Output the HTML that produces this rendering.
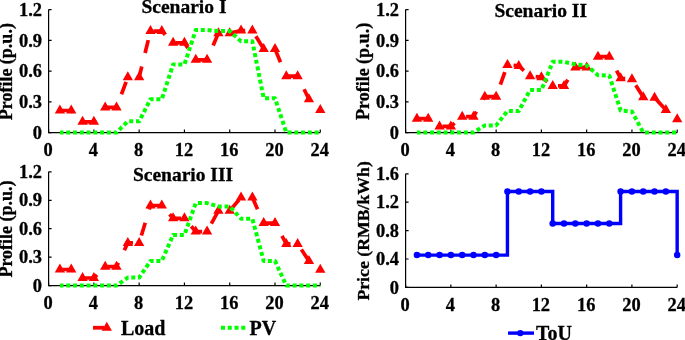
<!DOCTYPE html>
<html><head><meta charset="utf-8"><style>
html,body{margin:0;padding:0;background:#fff;width:685px;height:340px;overflow:hidden}
svg{display:block;will-change:transform}
text{stroke:#000;stroke-width:0.3;paint-order:stroke}
</style></head><body>
<svg width="685" height="340" viewBox="0 0 685 340" font-family='"Liberation Serif", serif' font-weight="bold" font-size="18.4">
<rect width="685" height="340" fill="#fff"/>
<path d="M48.6 9.55V132.55H320.28" fill="none" stroke="#000" stroke-width="1.2"/>
<path d="M48.6 132.55h3M48.6 101.8h3M48.6 71.05h3M48.6 40.3h3M48.6 9.55h3M48.6 132.55v-3M93.88 132.55v-3M139.16 132.55v-3M184.44 132.55v-3M229.72 132.55v-3M275 132.55v-3M320.28 132.55v-3" fill="none" stroke="#000" stroke-width="1.2"/>
<text x="42" y="138.75" text-anchor="end">0</text>
<text x="42" y="108" text-anchor="end">0.3</text>
<text x="42" y="77.25" text-anchor="end">0.6</text>
<text x="42" y="46.5" text-anchor="end">0.9</text>
<text x="42" y="15.75" text-anchor="end">1.2</text>
<text x="48.1" y="155.75" text-anchor="middle">0</text>
<text x="93.38" y="155.75" text-anchor="middle">4</text>
<text x="138.66" y="155.75" text-anchor="middle">8</text>
<text x="183.94" y="155.75" text-anchor="middle">12</text>
<text x="229.22" y="155.75" text-anchor="middle">16</text>
<text x="274.5" y="155.75" text-anchor="middle">20</text>
<text x="319.78" y="155.75" text-anchor="middle">24</text>
<path d="M59.92 110.51L71.24 110.51L82.56 121.79L93.88 121.79L105.2 107.44L116.52 107.44L127.84 77.2L139.16 77.2L150.48 31.08" fill="none" stroke="#ff0000" stroke-width="3.7" stroke-dasharray="13.3 13.9" stroke-dashoffset="26.48"/>
<path d="M150.48 31.08L161.8 31.08L173.12 42.86L184.44 42.86" fill="none" stroke="#ff0000" stroke-width="3.7" stroke-dasharray="13.3 13.9" stroke-dashoffset="24.20"/>
<path d="M184.44 42.86L195.76 59.78L207.08 59.78L218.4 33.13L229.72 33.13L241.04 30.56L252.36 30.56L263.68 49.01L275 49.01L286.32 76.18L297.64 76.18L308.96 99.24L320.28 110" fill="none" stroke="#ff0000" stroke-width="3.7" stroke-dasharray="13.3 13.9" stroke-dashoffset="7.18"/>
<path d="M59.92 104.51L65.07 113.51L54.77 113.51ZM71.24 104.51L76.39 113.51L66.09 113.51ZM82.56 115.79L87.71 124.79L77.41 124.79ZM93.88 115.79L99.03 124.79L88.73 124.79ZM105.2 101.44L110.35 110.44L100.05 110.44ZM116.52 101.44L121.67 110.44L111.37 110.44ZM127.84 71.2L132.99 80.2L122.69 80.2ZM139.16 71.2L144.31 80.2L134.01 80.2ZM150.48 25.08L155.63 34.08L145.33 34.08ZM161.8 25.08L166.95 34.08L156.65 34.08ZM173.12 36.86L178.27 45.86L167.97 45.86ZM184.44 36.86L189.59 45.86L179.29 45.86ZM195.76 53.78L200.91 62.78L190.61 62.78ZM207.08 53.78L212.23 62.78L201.93 62.78ZM218.4 27.13L223.55 36.13L213.25 36.13ZM229.72 27.13L234.87 36.13L224.57 36.13ZM241.04 24.56L246.19 33.56L235.89 33.56ZM252.36 24.56L257.51 33.56L247.21 33.56ZM263.68 43.01L268.83 52.01L258.53 52.01ZM275 43.01L280.15 52.01L269.85 52.01ZM286.32 70.18L291.47 79.18L281.17 79.18ZM297.64 70.18L302.79 79.18L292.49 79.18ZM308.96 93.24L314.11 102.24L303.81 102.24ZM320.28 104L325.43 113L315.13 113Z" fill="#ff0000"/>
<path d="M59.92 132.55L71.24 132.55L82.56 132.55L93.88 132.55L105.2 132.55L116.52 132.55L127.84 121.28L139.16 121.28L150.48 99.24L161.8 99.24L173.12 64.39L184.44 64.39L195.76 30.05L207.08 30.05L218.4 31.08L229.72 31.08L241.04 41.33L252.36 41.33L263.68 98.21L275 98.21L286.32 132.55L297.64 132.55L308.96 132.55L320.28 132.55" fill="none" stroke="#00ff00" stroke-width="4" stroke-dasharray="4 2.76" stroke-dashoffset="0.4" stroke-linejoin="round"/>
<text x="184" y="13" text-anchor="middle" font-size="19.5">Scenario I</text>
<text transform="translate(12.3 71.7) rotate(-90)" text-anchor="middle" font-size="18">Profile (p.u.)</text>
<path d="M405.6 9.55V132.55H677.21" fill="none" stroke="#000" stroke-width="1.2"/>
<path d="M405.6 132.55h3M405.6 101.8h3M405.6 71.05h3M405.6 40.3h3M405.6 9.55h3M405.6 132.55v-3M450.87 132.55v-3M496.14 132.55v-3M541.4 132.55v-3M586.67 132.55v-3M631.94 132.55v-3M677.21 132.55v-3" fill="none" stroke="#000" stroke-width="1.2"/>
<text x="399" y="138.75" text-anchor="end">0</text>
<text x="399" y="108" text-anchor="end">0.3</text>
<text x="399" y="77.25" text-anchor="end">0.6</text>
<text x="399" y="46.5" text-anchor="end">0.9</text>
<text x="399" y="15.75" text-anchor="end">1.2</text>
<text x="405.1" y="155.75" text-anchor="middle">0</text>
<text x="450.37" y="155.75" text-anchor="middle">4</text>
<text x="495.64" y="155.75" text-anchor="middle">8</text>
<text x="540.9" y="155.75" text-anchor="middle">12</text>
<text x="586.17" y="155.75" text-anchor="middle">16</text>
<text x="631.44" y="155.75" text-anchor="middle">20</text>
<text x="676.71" y="155.75" text-anchor="middle">24</text>
<path d="M416.92 118.71L428.23 118.71L439.55 126.4L450.87 126.4L462.19 116.66L473.5 116.66L484.82 96.68L496.14 96.68L507.45 64.9L518.77 65.93" fill="none" stroke="#ff0000" stroke-width="3.7" stroke-dasharray="13.3 13.9" stroke-dashoffset="26.48"/>
<path d="M518.77 65.93L530.09 76.18L541.4 77.2L552.72 85.91" fill="none" stroke="#ff0000" stroke-width="3.7" stroke-dasharray="13.3 13.9" stroke-dashoffset="6.32"/>
<path d="M552.72 85.91L564.04 85.91L575.36 67.46L586.67 67.46L597.99 56.7L609.31 56.7L620.62 78.23L631.94 79.25L643.26 97.19L654.57 97.7L665.89 110L677.21 119.23" fill="none" stroke="#ff0000" stroke-width="3.7" stroke-dasharray="13.3 13.9" stroke-dashoffset="21.94"/>
<path d="M416.92 112.71L422.07 121.71L411.77 121.71ZM428.23 112.71L433.38 121.71L423.08 121.71ZM439.55 120.4L444.7 129.4L434.4 129.4ZM450.87 120.4L456.02 129.4L445.72 129.4ZM462.19 110.66L467.33 119.66L457.04 119.66ZM473.5 110.66L478.65 119.66L468.35 119.66ZM484.82 90.68L489.97 99.68L479.67 99.68ZM496.14 90.68L501.29 99.68L490.99 99.68ZM507.45 58.9L512.6 67.9L502.3 67.9ZM518.77 59.93L523.92 68.93L513.62 68.93ZM530.09 70.18L535.24 79.18L524.94 79.18ZM541.4 71.2L546.55 80.2L536.25 80.2ZM552.72 79.91L557.87 88.91L547.57 88.91ZM564.04 79.91L569.19 88.91L558.89 88.91ZM575.36 61.46L580.5 70.46L570.21 70.46ZM586.67 61.46L591.82 70.46L581.52 70.46ZM597.99 50.7L603.14 59.7L592.84 59.7ZM609.31 50.7L614.46 59.7L604.16 59.7ZM620.62 72.23L625.77 81.23L615.47 81.23ZM631.94 73.25L637.09 82.25L626.79 82.25ZM643.26 91.19L648.41 100.19L638.11 100.19ZM654.57 91.7L659.72 100.7L649.42 100.7ZM665.89 104L671.04 113L660.74 113ZM677.21 113.23L682.36 122.23L672.06 122.23Z" fill="#ff0000"/>
<path d="M416.92 132.55L428.23 132.55L439.55 132.55L450.87 132.55L462.19 132.55L473.5 132.55L484.82 125.38L496.14 125.38L507.45 111.03L518.77 111.03L530.09 90.01L541.4 90.01L552.72 61.83L564.04 61.83L575.36 64.39L586.67 65.41L597.99 75.15L609.31 75.66L620.62 110.51L631.94 111.54L643.26 132.55L654.57 132.55L665.89 132.55L677.21 132.55" fill="none" stroke="#00ff00" stroke-width="4" stroke-dasharray="4 2.76" stroke-dashoffset="0.4" stroke-linejoin="round"/>
<text x="540.7" y="17.2" text-anchor="middle" font-size="19.5">Scenario II</text>
<text transform="translate(369.2 71.45) rotate(-90)" text-anchor="middle" font-size="18">Profile (p.u.)</text>
<path d="M48.6 171.84V285.6H320.28" fill="none" stroke="#000" stroke-width="1.2"/>
<path d="M48.6 285.6h3M48.6 257.16h3M48.6 228.72h3M48.6 200.28h3M48.6 171.84h3M48.6 285.6v-3M93.88 285.6v-3M139.16 285.6v-3M184.44 285.6v-3M229.72 285.6v-3M275 285.6v-3M320.28 285.6v-3" fill="none" stroke="#000" stroke-width="1.2"/>
<text x="42" y="291.8" text-anchor="end">0</text>
<text x="42" y="263.36" text-anchor="end">0.3</text>
<text x="42" y="234.92" text-anchor="end">0.6</text>
<text x="42" y="206.48" text-anchor="end">0.9</text>
<text x="42" y="178.04" text-anchor="end">1.2</text>
<text x="48.1" y="308.8" text-anchor="middle">0</text>
<text x="93.38" y="308.8" text-anchor="middle">4</text>
<text x="138.66" y="308.8" text-anchor="middle">8</text>
<text x="183.94" y="308.8" text-anchor="middle">12</text>
<text x="229.22" y="308.8" text-anchor="middle">16</text>
<text x="274.5" y="308.8" text-anchor="middle">20</text>
<text x="319.78" y="308.8" text-anchor="middle">24</text>
<path d="M59.92 269.48L71.24 269.48L82.56 278.02L93.88 278.02L105.2 266.64L116.52 266.64L127.84 242.94L139.16 242.94L150.48 205.49L161.8 205.49L173.12 218.29L184.44 218.29L195.76 231.56L207.08 231.56L218.4 210.71L229.72 210.71L241.04 197.44L252.36 197.44L263.68 223.03L275 223.03L286.32 243.89L297.64 243.89L308.96 260.95L320.28 269.67" fill="none" stroke="#ff0000" stroke-width="3.7" stroke-dasharray="13.3 13.9" stroke-dashoffset="26.48"/>
<path d="M59.92 263.48L65.07 272.48L54.77 272.48ZM71.24 263.48L76.39 272.48L66.09 272.48ZM82.56 272.02L87.71 281.02L77.41 281.02ZM93.88 272.02L99.03 281.02L88.73 281.02ZM105.2 260.64L110.35 269.64L100.05 269.64ZM116.52 260.64L121.67 269.64L111.37 269.64ZM127.84 236.94L132.99 245.94L122.69 245.94ZM139.16 236.94L144.31 245.94L134.01 245.94ZM150.48 199.49L155.63 208.49L145.33 208.49ZM161.8 199.49L166.95 208.49L156.65 208.49ZM173.12 212.29L178.27 221.29L167.97 221.29ZM184.44 212.29L189.59 221.29L179.29 221.29ZM195.76 225.56L200.91 234.56L190.61 234.56ZM207.08 225.56L212.23 234.56L201.93 234.56ZM218.4 204.71L223.55 213.71L213.25 213.71ZM229.72 204.71L234.87 213.71L224.57 213.71ZM241.04 191.44L246.19 200.44L235.89 200.44ZM252.36 191.44L257.51 200.44L247.21 200.44ZM263.68 217.03L268.83 226.03L258.53 226.03ZM275 217.03L280.15 226.03L269.85 226.03ZM286.32 237.89L291.47 246.89L281.17 246.89ZM297.64 237.89L302.79 246.89L292.49 246.89ZM308.96 254.95L314.11 263.95L303.81 263.95ZM320.28 263.67L325.43 272.67L315.13 272.67Z" fill="#ff0000"/>
<path d="M59.92 285.6L71.24 285.6L82.56 285.6L93.88 285.6L105.2 285.6L116.52 285.6L127.84 277.54L139.16 277.54L150.48 260.95L161.8 260.95L173.12 234.88L184.44 234.88L195.76 203.12L207.08 203.12L218.4 206.44L229.72 206.44L241.04 218.77L252.36 218.77L263.68 260.95L275 260.95L286.32 285.6L297.64 285.6L308.96 285.6L320.28 285.6" fill="none" stroke="#00ff00" stroke-width="4" stroke-dasharray="4 2.76" stroke-dashoffset="0.4" stroke-linejoin="round"/>
<text x="183" y="181.2" text-anchor="middle" font-size="19.5">Scenario III</text>
<text transform="translate(11.8 229) rotate(-90)" text-anchor="middle" font-size="18">Profile (p.u.)</text>
<path d="M405.6 173.8V287.4H677.16" fill="none" stroke="#000" stroke-width="1.2"/>
<path d="M405.6 287.4h3M405.6 259h3M405.6 230.6h3M405.6 202.2h3M405.6 173.8h3M405.6 287.4v-3M450.86 287.4v-3M496.12 287.4v-3M541.38 287.4v-3M586.64 287.4v-3M631.9 287.4v-3M677.16 287.4v-3" fill="none" stroke="#000" stroke-width="1.2"/>
<text x="399" y="293.6" text-anchor="end">0</text>
<text x="399" y="265.2" text-anchor="end">0.4</text>
<text x="399" y="236.8" text-anchor="end">0.8</text>
<text x="399" y="208.4" text-anchor="end">1.2</text>
<text x="399" y="180" text-anchor="end">1.6</text>
<text x="405.1" y="310.6" text-anchor="middle">0</text>
<text x="450.36" y="310.6" text-anchor="middle">4</text>
<text x="495.62" y="310.6" text-anchor="middle">8</text>
<text x="540.88" y="310.6" text-anchor="middle">12</text>
<text x="586.14" y="310.6" text-anchor="middle">16</text>
<text x="631.4" y="310.6" text-anchor="middle">20</text>
<text x="676.66" y="310.6" text-anchor="middle">24</text>
<path d="M416.92 255.09L507.44 255.09L507.44 191.55L552.7 191.55L552.7 223.5L620.59 223.5L620.59 191.55L677.16 191.55L677.16 255.09" fill="none" stroke="#0000ff" stroke-width="3.4"/>
<circle cx="416.92" cy="255.09" r="3.25" fill="#0000ff"/>
<circle cx="428.23" cy="255.09" r="3.25" fill="#0000ff"/>
<circle cx="439.55" cy="255.09" r="3.25" fill="#0000ff"/>
<circle cx="450.86" cy="255.09" r="3.25" fill="#0000ff"/>
<circle cx="462.18" cy="255.09" r="3.25" fill="#0000ff"/>
<circle cx="473.49" cy="255.09" r="3.25" fill="#0000ff"/>
<circle cx="484.81" cy="255.09" r="3.25" fill="#0000ff"/>
<circle cx="496.12" cy="255.09" r="3.25" fill="#0000ff"/>
<circle cx="507.44" cy="191.55" r="3.25" fill="#0000ff"/>
<circle cx="518.75" cy="191.55" r="3.25" fill="#0000ff"/>
<circle cx="530.07" cy="191.55" r="3.25" fill="#0000ff"/>
<circle cx="541.38" cy="191.55" r="3.25" fill="#0000ff"/>
<circle cx="552.7" cy="223.5" r="3.25" fill="#0000ff"/>
<circle cx="564.01" cy="223.5" r="3.25" fill="#0000ff"/>
<circle cx="575.33" cy="223.5" r="3.25" fill="#0000ff"/>
<circle cx="586.64" cy="223.5" r="3.25" fill="#0000ff"/>
<circle cx="597.96" cy="223.5" r="3.25" fill="#0000ff"/>
<circle cx="609.27" cy="223.5" r="3.25" fill="#0000ff"/>
<circle cx="620.59" cy="191.55" r="3.25" fill="#0000ff"/>
<circle cx="631.9" cy="191.55" r="3.25" fill="#0000ff"/>
<circle cx="643.22" cy="191.55" r="3.25" fill="#0000ff"/>
<circle cx="654.53" cy="191.55" r="3.25" fill="#0000ff"/>
<circle cx="665.85" cy="191.55" r="3.25" fill="#0000ff"/>
<circle cx="677.16" cy="255.09" r="3.25" fill="#0000ff"/>
<text transform="translate(369.2 230.85) rotate(-90)" text-anchor="middle" font-size="17.75">Price (RMB/kWh)</text>
<path d="M93 327.75H104" stroke="#ff0000" stroke-width="3.8"/>
<path d="M106.8 321.75L111.95 330.75L101.65 330.75Z" fill="#ff0000"/>
<text x="121" y="335.3" font-size="20">Load</text>
<path d="M221 327.7H248" stroke="#00ff00" stroke-width="4" stroke-dasharray="4 2.76"/>
<text x="249.5" y="335.3" font-size="20">PV</text>
<path d="M508 333.1H534" stroke="#0000ff" stroke-width="3.4"/>
<circle cx="520.3" cy="333.1" r="3.2" fill="#0000ff"/>
<text x="536" y="339.8" font-size="20">ToU</text>
</svg>
</body></html>
